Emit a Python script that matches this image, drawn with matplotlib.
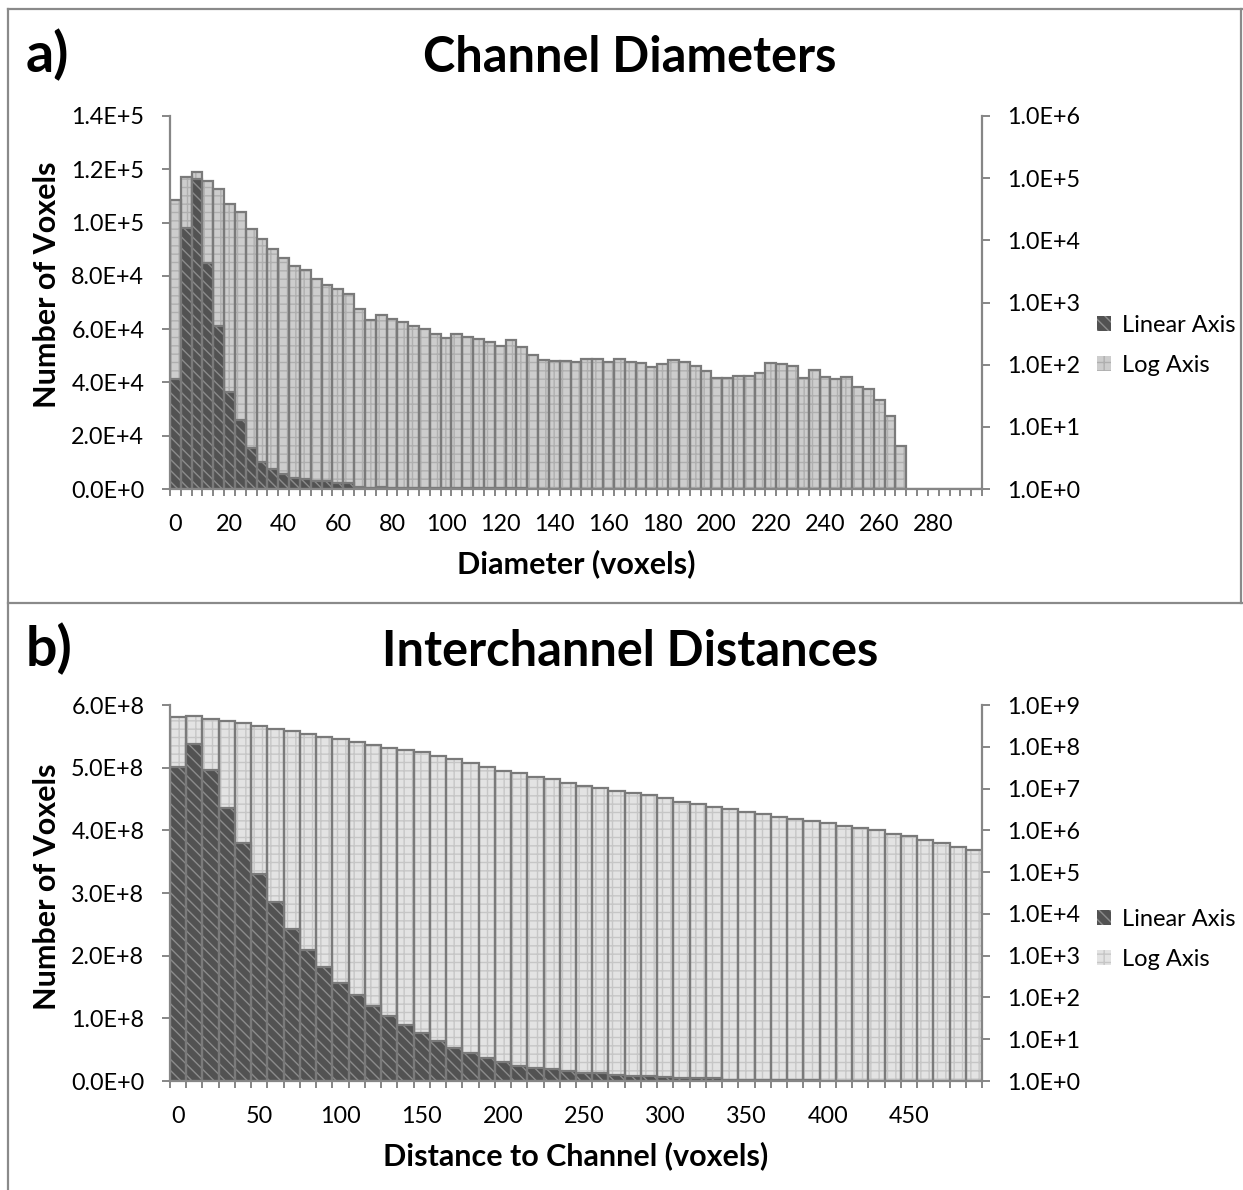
import matplotlib
matplotlib.use("Agg")
import matplotlib.pyplot as plt
import numpy as np
from matplotlib.patches import Patch
from matplotlib.lines import Line2D

# ---------------- data ----------------
# Panel a) Channel diameters (bins of 4 voxels)
diam_bins = list(range(0, 300, 4))
diam_linear = [41300, 97800, 116500, 84800, 61300, 36500, 26000, 15400, 10100, 7500,
               5700, 4100, 3750, 3000, 2900, 2400, 2100, 783, 515, 627,
               541, 484, 418, 373, 310, 271, 316, 274, 258, 233,
               201, 248, 189, 145, 119, 113, 113, 110, 123, 123,
               110, 125, 110, 106, 91, 101, 119, 109, 95, 79,
               62, 62, 65, 65, 73, 106, 101, 95, 60, 83,
               63, 58, 63, 44, 40, 27, 15, 5,
               0, 0, 0, 0, 0, 0, 0]
diam_log = [44300, 105000, 125000, 90600, 66500, 38600, 28100, 15300, 10600, 7300,
            5120, 3850, 3360, 2380, 1930, 1640, 1360, 783, 515, 627,
            541, 484, 418, 373, 310, 271, 316, 274, 258, 233,
            201, 248, 189, 145, 119, 113, 113, 110, 123, 123,
            110, 125, 110, 106, 91, 101, 119, 109, 95, 79,
            62, 62, 65, 65, 73, 106, 101, 95, 60, 83,
            63, 58, 63, 44, 40, 27, 15, 5,
            0, 0, 0, 0, 0, 0, 0]

# Panel b) Interchannel distances (bins of 10 voxels)
dist_bins = list(range(0, 500, 10))
dist_linear = [5.015e8, 5.377e8, 4.962e8, 4.361e8, 3.792e8, 3.298e8, 2.856e8, 2.431e8, 2.095e8, 1.819e8,
               1.559e8, 1.367e8, 1.197e8, 1.037e8, 8.94e7, 7.6e7, 6.43e7, 5.21e7, 4.42e7, 3.62e7,
               3.09e7, 2.45e7, 2.07e7, 1.86e7, 1.6e7, 1.3e7, 1.2e7, 1.0e7, 8.5e6, 7.5e6,
               6.4e6, 5.3e6, 4.8e6, 4.0e6, 1.2e6, 1.1e6, 1.0e6, 9.0e5, 8.5e5, 8.0e5,
               7.5e5, 7.0e5, 6.5e5, 6.0e5, 5.5e5, 5.0e5, 4.5e5, 4.0e5, 3.5e5, 3.0e5]
dist_log = [5.07e8, 5.55e8, 4.61e8, 4.21e8, 3.77e8, 3.14e8, 2.70e8, 2.38e8, 2.06e8, 1.74e8,
            1.51e8, 1.30e8, 1.12e8, 9.5e7, 8.36e7, 7.36e7, 5.90e7, 5.00e7, 4.16e7, 3.27e7,
            2.67e7, 2.31e7, 1.92e7, 1.68e7, 1.36e7, 1.17e7, 1.01e7, 8.87e6, 7.67e6, 6.89e6,
            5.94e6, 4.84e6, 4.19e6, 3.61e6, 3.18e6, 2.75e6, 2.46e6, 2.12e6, 1.87e6, 1.70e6,
            1.47e6, 1.29e6, 1.14e6, 1.0e6, 8.17e5, 7.18e5, 5.77e5, 4.98e5, 4.06e5, 3.38e5]

series_names = ["Linear Axis", "Log Axis"]
panel_letters = ["a)", "b)"]
titles = ["Channel Diameters", "Interchannel Distances"]
xlabels = ["Diameter (voxels)", "Distance to Channel (voxels)"]
ylabel = "Number of Voxels"
lin_ticks = [[0, 2e4, 4e4, 6e4, 8e4, 1e5, 1.2e5, 1.4e5],
             [0, 1e8, 2e8, 3e8, 4e8, 5e8, 6e8]]
log_max_exp = [6, 9]
label_every = [5, 5]

# ---------------- style ----------------
FONT = "Lato"
plt.rcParams["font.family"] = [FONT, "DejaVu Sans"]
plt.rcParams["hatch.linewidth"] = 1.0

W, H = 1243, 1190
fig = plt.figure(figsize=(W / 100, H / 100), dpi=100)

SPINE = "#868686"
OUTLINE = "#7a7a7a"
DARK_FILL, DARK_HATCH = "#525252", "#8c8c8c"
LIGHT_FILL = ["#cdcdcd", "#e3e3e3"]
LIGHT_HATCH = ["#afafaf", "#c6c6c6"]
TICK_FS = 16.8
LABEL_FS = 22
TITLE_FS = 35
LETTER_FS = 40
LEG_FS = 17


def sci_lin(v):
    if v == 0:
        return "0.0E+0"
    e = int(np.floor(np.log10(v)))
    return f"{v / 10 ** e:.1f}E+{e}"


def px(x, y):
    return x / W, 1 - y / H


panels = [
    dict(bins=diam_bins, lin=diam_linear, log=diam_log, top=116, bottom=489, off=0, ylab_y=285),
    dict(bins=dist_bins, lin=dist_linear, log=dist_log, top=705, bottom=1081, off=594, ylab_y=887),
]

for k, p in enumerate(panels):
    left, right = 170, 982
    h = p["bottom"] - p["top"]
    ax = fig.add_axes([left / W, 1 - p["bottom"] / H, (right - left) / W, h / H])
    ax2 = ax.twinx()
    ax.set_zorder(2)
    ax2.set_zorder(1)
    ax.patch.set_visible(False)

    n = len(p["bins"])
    x = np.arange(n)

    # log-axis series (behind)
    ax2.set_yscale("log")
    ax2.bar(x, p["log"], width=1.0, color=LIGHT_FILL[k], edgecolor=LIGHT_HATCH[k],
            hatch="++", linewidth=0)
    ax2.bar(x, p["log"], width=1.0, fill=False, edgecolor=OUTLINE, linewidth=1.6)
    ax2.set_ylim(1, 10 ** log_max_exp[k])
    ax2.set_yticks([10 ** e for e in range(log_max_exp[k] + 1)])
    ax2.set_yticklabels([f"1.0E+{e}" for e in range(log_max_exp[k] + 1)])
    ax2.yaxis.set_minor_locator(matplotlib.ticker.NullLocator())

    # linear-axis series (front)
    ax.bar(x, p["lin"], width=1.0, color=DARK_FILL, edgecolor=DARK_HATCH,
           hatch="\\\\\\", linewidth=0)
    ax.bar(x, p["lin"], width=1.0, fill=False, edgecolor=OUTLINE, linewidth=1.6)
    ax.set_ylim(0, lin_ticks[k][-1])
    ax.set_yticks(lin_ticks[k])
    ax.set_yticklabels([sci_lin(v) for v in lin_ticks[k]])

    ax.set_xlim(-0.5, n - 0.5)
    # category boundary tick marks, labels on every 5th category
    ax.set_xticks(np.arange(n + 1) - 0.5)
    ax.set_xticklabels([])
    lab_idx = x[::label_every[k]]
    ax.set_xticks(lab_idx, minor=True)
    ax.set_xticklabels([str(p["bins"][i]) for i in lab_idx], minor=True)

    for a in (ax, ax2):
        for s in a.spines.values():
            s.set_color(SPINE)
            s.set_linewidth(1.6)
    ax.spines["top"].set_visible(False)
    ax.spines["right"].set_visible(False)
    ax2.spines["top"].set_visible(False)
    ax2.spines["left"].set_visible(False)
    ax2.spines["bottom"].set_visible(False)

    ax.tick_params(axis="y", which="major", direction="out", length=5.5, width=1.4,
                   color=SPINE, labelsize=TICK_FS, pad=13)
    ax2.tick_params(axis="y", which="major", direction="out", length=6, width=1.4,
                    color=SPINE, labelsize=TICK_FS, pad=12)
    ax.tick_params(axis="x", which="major", direction="out", length=5, width=1.4, color=SPINE)
    ax.tick_params(axis="x", which="minor", length=0, labelsize=TICK_FS, pad=18)

    ax.set_xlabel(xlabels[k], fontsize=LABEL_FS, fontweight="bold", va="center")
    ax.xaxis.set_label_coords(0.5, -(75) / h)
    ax.set_ylabel(ylabel, fontsize=LABEL_FS, fontweight="bold", va="center")
    ax.yaxis.set_label_coords((47 - left) / (right - left), (p["bottom"] - p["ylab_y"]) / h)

    fx, fy = px(630, 72 + p["off"])
    fig.text(fx, fy, titles[k], fontsize=TITLE_FS, fontweight="bold", ha="center", va="baseline")
    fx, fy = px(26, 72 + p["off"])
    fig.text(fx, fy, panel_letters[k], fontsize=LETTER_FS, fontweight="bold", ha="left", va="baseline")

    handles = [Patch(facecolor=DARK_FILL, edgecolor=DARK_HATCH, hatch="\\\\\\", linewidth=0),
               Patch(facecolor=LIGHT_FILL[k], edgecolor=LIGHT_HATCH[k], hatch="++", linewidth=0)]
    lx, ly = px(1097, 345.5 + p["off"])
    fig.legend(handles, series_names, loc="center left", bbox_to_anchor=(lx, ly),
               frameon=False, fontsize=LEG_FS, handlelength=0.6, handleheight=0.6,
               handletextpad=0.45, labelspacing=0.8, borderpad=0, borderaxespad=0)

# panel borders
BORDER = "#8a8a8a"
for (x0, y0, x1, y1) in [(7.5, 8.5, 1243, 8.5), (7.5, 8.5, 7.5, 1190), (7.5, 602.5, 1243, 602.5),
                         (1241, 8.5, 1241, 602.5)]:
    a0 = px(x0, y0)
    a1 = px(x1, y1)
    fig.add_artist(Line2D([a0[0], a1[0]], [a0[1], a1[1]], transform=fig.transFigure,
                          color=BORDER, linewidth=1.6))

fig.savefig("out.png", dpi=100)
